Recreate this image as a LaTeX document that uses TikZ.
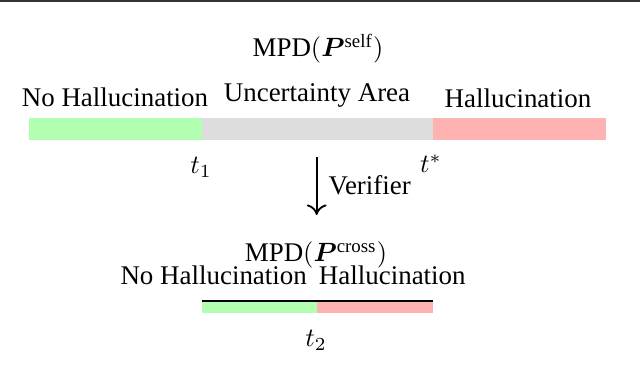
\documentclass[tikz,border=0pt]{standalone}
\usepackage{amsmath,bm}
\usepackage{fontspec}
\setmainfont{Liberation Serif}
\usetikzlibrary{arrows.meta}
\usepackage{xcolor}

\begin{document}
\begin{tikzpicture}[x=0.0133cm, y=-0.0133cm,
  lbl/.style={anchor=base, inner sep=0pt, font=\fontsize{10.2}{12}\selectfont},
  safe/.style={fill=green!30},
  unsure/.style={fill=gray!27},
  halluc/.style={fill=red!30}
]
  \useasboundingbox (0,0) rectangle (640,382);
  \draw[line width=0.8pt, black!80] (0,1) -- (640,1);

  % self-consistency bar
  \node[lbl] (mpdself) at (318,57) {MPD$(\bm{P}^{\mathrm{self}})$};
  \node[lbl] (nohall) at (115,106.7) {No Hallucination};
  \node[lbl] (uncert) at (317,101.7) {Uncertainty Area};
  \node[lbl] (hall) at (518,107.3) {Hallucination};
  \fill[safe] (29,117.7) rectangle (201.7,140);
  \fill[unsure] (201.7,117.7) rectangle (432.7,140);
  \fill[halluc] (432.7,117.7) rectangle (605.7,140);
  \node[lbl] (tone) at (201,173.5) {$t_1$};
  \node[lbl] (tstar) at (431,173) {$t^*$};

  % verifier step
  \coordinate (vtop) at (316.7,157);
  \coordinate (vbot) at (316.7,215);
  \draw[-{To[length=4pt,width=7.5pt]}, line width=0.7pt] (vtop) -- (vbot);
  \node[lbl, anchor=base west] (verif) at (328,195) {Verifier};

  % cross-check bar
  \node[lbl] (mpdcross) at (316,261.7) {MPD$(\bm{P}^{\mathrm{cross}})$};
  \node[lbl] (nohalltwo) at (213.7,285) {No Hallucination};
  \node[lbl] (halltwo) at (392.3,285) {Hallucination};
  \fill[safe] (201.7,301) rectangle (316.7,313);
  \fill[halluc] (316.7,301) rectangle (432.7,313);
  \draw[line width=0.4pt] (201.7,301) -- (432.7,301);
  \node[lbl] (ttwo) at (316,346.7) {$t_2$};
\end{tikzpicture}
\end{document}
